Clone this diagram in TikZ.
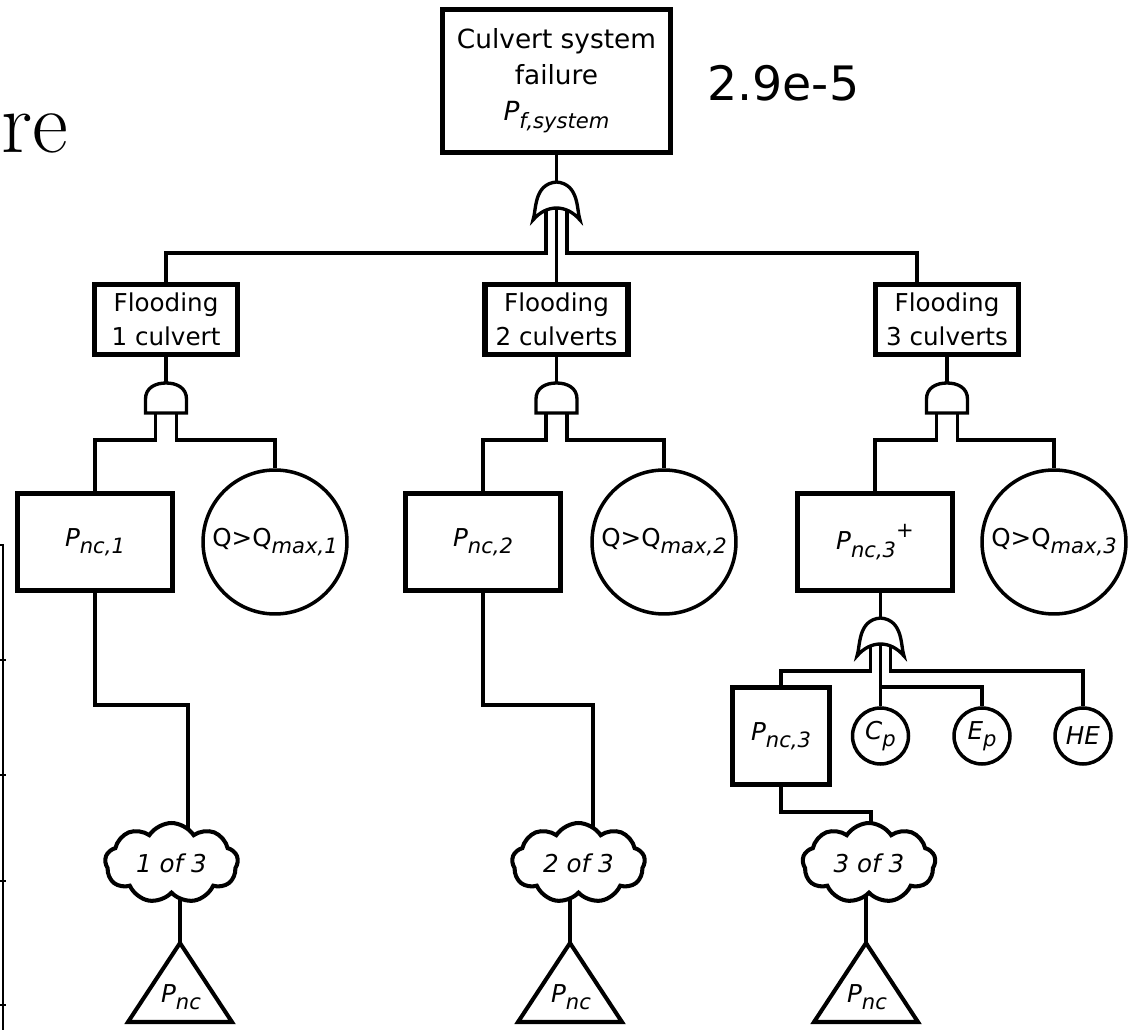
\documentclass[tikz,border=0pt]{standalone}
\usepackage{fontspec}
\setsansfont{DejaVu Sans}
\usetikzlibrary{shapes.symbols,calc}
\pgfdeclarelayer{background}
\pgfsetlayers{background,main}
\newcommand\sbs[1]{\raisebox{-0.3em}{\fontsize{12}{12}\selectfont #1}}
\newcommand\boxfont{\sffamily\fontsize{14}{19.5}\selectfont}
\begin{document}
\begin{tikzpicture}[x=0.02cm,y=-0.02cm,
  conn/.style={line width=1.8pt},
  evbox/.style={draw, line width=2.9pt, fill=white, inner sep=1pt, align=center, font=\boxfont},
  basic/.style={circle, draw, line width=2pt, fill=white, inner sep=0pt, font=\boxfont},
  cloudnode/.style={cloud, cloud puffs=9, cloud puff arc=115, cloud ignores aspect, draw, fill=white,
    line width=2.3pt, minimum width=2.66cm, minimum height=1.6cm, inner sep=0pt, font=\boxfont},
  tri/.style={draw, line width=2.3pt, fill=white, line join=miter},
  andgate/.pic={\draw[line width=1.9pt, fill=white] (-20.5,30) -- (-20.5,16)
      .. controls (-20.5,5) and (-11,0) .. (0,0) .. controls (11,0) and (20.5,5) .. (20.5,16)
      -- (20.5,30) -- cycle;},
  orgate/.pic={\draw[line width=1.9pt, fill=white] (-23.5,38)
      .. controls (-20,28) and (-23,2) .. (0,0) .. controls (23,2) and (20,28) .. (23.5,38)
      .. controls (10,22) and (-10,22) .. cycle;}
]
\useasboundingbox (0,0) rectangle (1134,1030);

% partial frame of neighbouring figure
\draw[line width=1.1pt] (0,545) -- (3,545) -- (3,1030);
\foreach \yy in {660,775,881,1005} \draw[line width=1.1pt] (0,\yy) -- (6,\yy);

\node[font=\rmfamily\fontsize{50}{50}\selectfont, anchor=base west, inner sep=0pt] (re) at (1,153) {re};
\node[font=\sffamily\fontsize{27}{27}\selectfont, anchor=base west, inner sep=0pt] (val) at (707,101) {2.9e-5};

\node[evbox, minimum width=4.56cm, minimum height=2.86cm, font=\sffamily\fontsize{15}{20.5}\selectfont]
  (top) at (556.5,81) {Culvert system\\failure\\\textit{P\sbs{f,system}}};

\node[evbox, minimum width=2.86cm, minimum height=1.4cm] (f1) at (166,319.5) {Flooding\\1 culvert};
\node[evbox, minimum width=2.86cm, minimum height=1.4cm] (f2) at (556.5,319.5) {Flooding\\2 culverts};
\node[evbox, minimum width=2.86cm, minimum height=1.4cm] (f3) at (947,319.5) {Flooding\\3 culverts};

\coordinate (g0) at (556.5,182);
\coordinate (a1) at (166,383);
\coordinate (a2) at (556.5,383);
\coordinate (a3) at (947,383);
\coordinate (g3) at (880.5,618);

\node[evbox, minimum width=3.1cm, minimum height=1.94cm] (p1) at (95,542) {\textit{P\sbs{nc,1}}};
\node[evbox, minimum width=3.1cm, minimum height=1.94cm] (p2) at (483,542) {\textit{P\sbs{nc,2}}};
\node[evbox, minimum width=3.1cm, minimum height=1.94cm] (p3p) at (875,542)
  {\textit{P\sbs{nc,3}}\raisebox{0.5em}{\fontsize{12}{12}\selectfont\textit{+}}};

\node[basic, minimum size=2.88cm] (q1) at (275,542) {Q>Q\sbs{\textit{max,1}}};
\node[basic, minimum size=2.88cm] (q2) at (664,542) {Q>Q\sbs{\textit{max,2}}};
\node[basic, minimum size=2.88cm] (q3) at (1054,542) {Q>Q\sbs{\textit{max,3}}};

\node[evbox, minimum width=1.94cm, minimum height=1.94cm] (p3) at (781,736) {\textit{P\sbs{nc,3}}};
\node[basic, minimum size=1.12cm] (cp) at (880.5,736) {\textit{C\sbs{p}}};
\node[basic, minimum size=1.12cm] (ep) at (982,736) {\textit{E\sbs{p}}};
\node[basic, minimum size=1.12cm] (he) at (1083,736) {\textit{HE}};

\node[cloudnode] (c1) at (171.5,863) {\textit{1 of 3}};
\node[cloudnode] (c2) at (578.5,863) {\textit{2 of 3}};
\node[cloudnode] (c3) at (869,863) {\textit{3 of 3}};

\coordinate (t1a) at (180,943);
\coordinate (t2a) at (570,943);
\coordinate (t3a) at (866,943);
\foreach \t in {t1a,t2a,t3a} \draw[tri] (\t) -- ++(-52,79) -- ++(104,0) -- cycle;
\node[font=\boxfont] (t1) at (181,997) {\textit{P\sbs{nc}}};
\node[font=\boxfont] (t2) at (571,997) {\textit{P\sbs{nc}}};
\node[font=\boxfont] (t3) at (867,997) {\textit{P\sbs{nc}}};

% gates
\pic at (g0) {orgate};
\pic at (a1) {andgate};
\pic at (a2) {andgate};
\pic at (a3) {andgate};
\pic at (g3) {orgate};

\begin{pgfonlayer}{background}
\draw[conn] (top.south) -- ($(g0)+(0,5)$);
\draw[conn] ($(g0)+(-10.5,25)$) -- ($(g0)+(-10.5,71)$) -| (f1.north);
\draw[conn] ($(g0)+(0,25)$) -- (f2.north);
\draw[conn] ($(g0)+(10.5,25)$) -- ($(g0)+(10.5,71)$) -| ($(f3.north)+(-30,0)$);

\foreach \f/\a/\p/\q in {f1/a1/p1/q1, f2/a2/p2/q2, f3/a3/p3p/q3}{
  \draw[conn] (\f.south) -- ($(\a)+(0,5)$);
  \draw[conn] ($(\a)+(-10.5,20)$) -- ($(\a)+(-10.5,57)$) -| (\p.north);
  \draw[conn] ($(\a)+(10.5,20)$) -- ($(\a)+(10.5,57)$) -| (\q.north);
}

\draw[conn] (p1.south) -- ++(0,112) -| ($(c1.center)+(16.5,0)$);
\draw[conn] (p2.south) -- ++(0,112) -| ($(c2.center)+(14.5,0)$);

\draw[conn] ($(g3)+(0,5)$) -- (g3 |- p3p.south);
\draw[conn] ($(g3)+(-10,20)$) -- ($(g3)+(-10,53)$) -| (p3.north);
\draw[conn] ($(g3)+(0,20)$) -- (cp.north);
\draw[conn] ($(g3)+(0,69)$) -| (ep.north);
\draw[conn] ($(g3)+(10,20)$) -- ($(g3)+(10,53)$) -| (he.north);

\draw[conn] (p3.south) -- ++(0,25) -| ($(c3.center)+(2,0)$);

\draw[conn] (t1a) -- (t1a |- c1.center);
\draw[conn] (t2a) -- (t2a |- c2.center);
\draw[conn] (t3a) -- (t3a |- c3.center);
\end{pgfonlayer}
\end{tikzpicture}
\end{document}
